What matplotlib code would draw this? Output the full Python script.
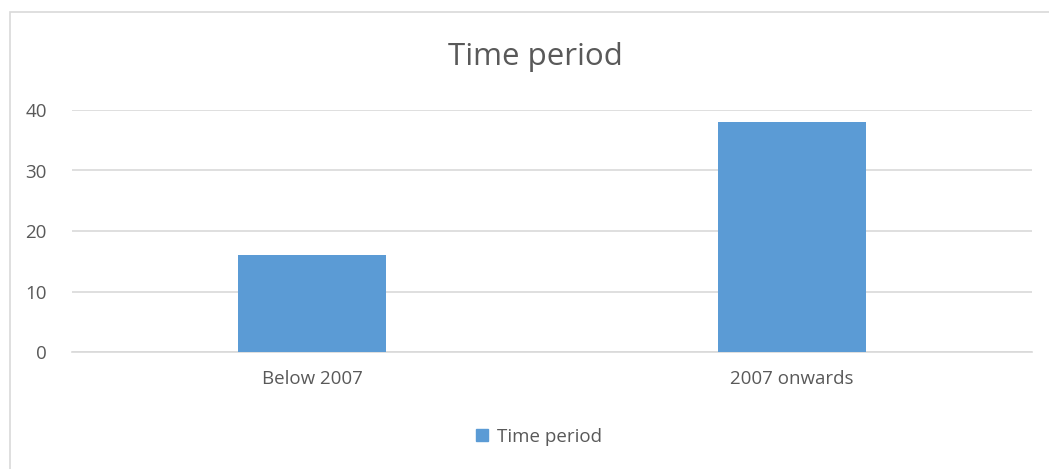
import matplotlib
matplotlib.use('Agg')
import matplotlib.pyplot as plt
from matplotlib.patches import Rectangle, Patch

categories = ['Below 2007', '2007 onwards']
values = [16, 38]
yticks = [0, 10, 20, 30, 40]

plt.rcParams['font.family'] = ['Open Sans', 'DejaVu Sans']
txt = '#595959'
grid = '#d9d9d9'
blue = '#5b9bd5'

fig = plt.figure(figsize=(10.49, 4.69), dpi=100)
ax = fig.add_axes([72/1049, 1 - 352/469, (1032 - 72)/1049, (352 - 110)/469])

# chart area border (only left/top visible in the crop)
fig.patches.append(Rectangle((10/1049, -0.1), 1.2, 1 - 12/469 + 0.1, transform=fig.transFigure,
                             fill=False, edgecolor=grid, linewidth=1.2))

x = range(len(categories))
ax.bar(x, values, width=0.31, color=blue, zorder=3)
ax.set_xlim(-0.5, len(categories) - 0.5)
ax.set_ylim(0, 40)
ax.set_yticks(yticks)
ax.set_xticks(list(x))
ax.set_xticklabels(categories)
ax.yaxis.grid(True, color=grid, linewidth=1.2, zorder=0)
for s in ['top', 'right', 'left']:
    ax.spines[s].set_visible(False)
ax.spines['bottom'].set_color(grid)
ax.spines['bottom'].set_linewidth(1.2)
ax.tick_params(length=0, labelsize=13.5, colors=txt, pad=13)
ax.tick_params(axis='y', pad=18)

fig.text(0.51, 1 - 57/469, 'Time period', ha='center', va='center', fontsize=22.5, color=txt)
fig.legend(handles=[Patch(color=blue)], labels=['Time period'], loc='center',
           bbox_to_anchor=(0.514, 1 - 437/469), frameon=False, fontsize=13.5,
           labelcolor=txt, handlelength=0.6, handleheight=0.6, handletextpad=0.5)

fig.savefig('out.png', dpi=100)
